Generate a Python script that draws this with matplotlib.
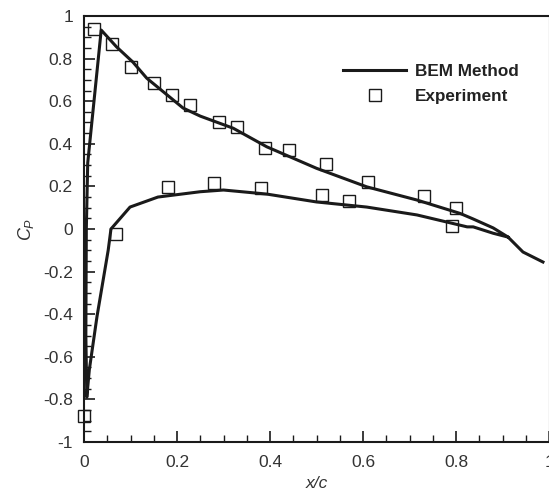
import matplotlib
matplotlib.use("Agg")
import matplotlib.pyplot as plt
from matplotlib.ticker import MultipleLocator

plt.rcParams['font.family'] = ['Liberation Sans', 'DejaVu Sans']
plt.rcParams['mathtext.fontset'] = 'custom'
plt.rcParams['mathtext.it'] = 'Liberation Sans:italic'
plt.rcParams['mathtext.rm'] = 'Liberation Sans'

# BEM curve: trailing edge -> lower surface -> leading edge -> upper surface
bem_x = [0.987, 0.944, 0.912, 0.88, 0.837, 0.824, 0.716, 0.608, 0.50, 0.393,
         0.30, 0.25, 0.159, 0.099, 0.058, 0.052, 0.028, 0.0115, 0.006,
         0.004, 0.005, 0.008, 0.037, 0.07, 0.105, 0.135, 0.213, 0.25, 0.321,
         0.393, 0.50, 0.608, 0.716, 0.809, 0.837, 0.88, 0.912]
bem_y = [-0.155, -0.108, -0.038, -0.02, 0.01, 0.01, 0.066, 0.103, 0.127, 0.164,
         0.183, 0.175, 0.15, 0.103, 0.0, -0.1, -0.41, -0.66, -0.79,
         -0.5, 0.0, 0.31, 0.934, 0.855, 0.784, 0.708, 0.568, 0.53, 0.473,
         0.386, 0.285, 0.198, 0.136, 0.073, 0.047, 0.005, -0.038]

# experiment points
exp_x = [0.0215, 0.060, 0.101, 0.150, 0.19, 0.229, 0.290, 0.330, 0.390, 0.441,
         0.520, 0.610, 0.731, 0.800, 0.180, 0.280, 0.380, 0.511, 0.570, 0.791,
         0.069, 0.0]
exp_y = [0.939, 0.869, 0.761, 0.686, 0.629, 0.582, 0.503, 0.478, 0.379, 0.371,
         0.305, 0.222, 0.156, 0.098, 0.198, 0.215, 0.191, 0.159, 0.131, 0.014,
         -0.024, -0.877]

x_ticks = [0, 0.2, 0.4, 0.6, 0.8, 1]
x_labels = ['0', '0.2', '0.4', '0.6', '0.8', '1']
y_ticks = [-1, -0.8, -0.6, -0.4, -0.2, 0, 0.2, 0.4, 0.6, 0.8, 1]
y_labels = ['-1', '-0.8', '-0.6', '-0.4', '-0.2', '0', '0.2', '0.4', '0.6', '0.8', '1']

fig = plt.figure(figsize=(5.49, 4.94), dpi=100)
ax = fig.add_axes([84/549, 52/494, 465/549, 426/494])

ax.plot(bem_x, bem_y, color='#1a1a1a', lw=2.2, solid_joinstyle='round',
        label='BEM Method', clip_on=False, zorder=3)
ax.plot(exp_x, exp_y, 's', ms=8.5, mfc='none', mec='#1a1a1a', mew=1.0,
        label='Experiment', clip_on=False, zorder=4)

ax.set_xlim(0, 1)
ax.set_ylim(-1, 1)
ax.set_xticks(x_ticks)
ax.set_xticklabels(x_labels)
ax.set_yticks(y_ticks)
ax.set_yticklabels(y_labels)
ax.xaxis.set_minor_locator(MultipleLocator(0.05))
ax.yaxis.set_minor_locator(MultipleLocator(0.05))

ax.tick_params(which='both', direction='in', top=False, right=False,
               color='#1a1a1a', labelcolor='#333333', labelsize=12.5)
ax.tick_params(which='major', length=8, width=1.2)
ax.tick_params(which='minor', length=5, width=1.0)
ax.tick_params(axis='x', pad=9)
ax.tick_params(axis='y', pad=8)

for s in ['left', 'bottom', 'top']:
    ax.spines[s].set_color('#1a1a1a')
    ax.spines[s].set_linewidth(1.5)
ax.spines['right'].set_color('#cccccc')
ax.spines['right'].set_linewidth(1.0)

ax.set_xlabel('x/c', fontsize=12.5, style='italic', color='#333333', labelpad=5)
ax.set_ylabel(r'$C_P$', fontsize=13, color='#333333', labelpad=5)

leg = ax.legend(loc='center left', bbox_to_anchor=(0.557, 0.840), frameon=False,
                borderpad=0, borderaxespad=0, handlelength=3.7, handletextpad=0.5,
                labelspacing=0.6, prop={'weight': 'bold', 'size': 12.3})
for t in leg.get_texts():
    t.set_color('#222222')

fig.savefig('out.png', dpi=100)
